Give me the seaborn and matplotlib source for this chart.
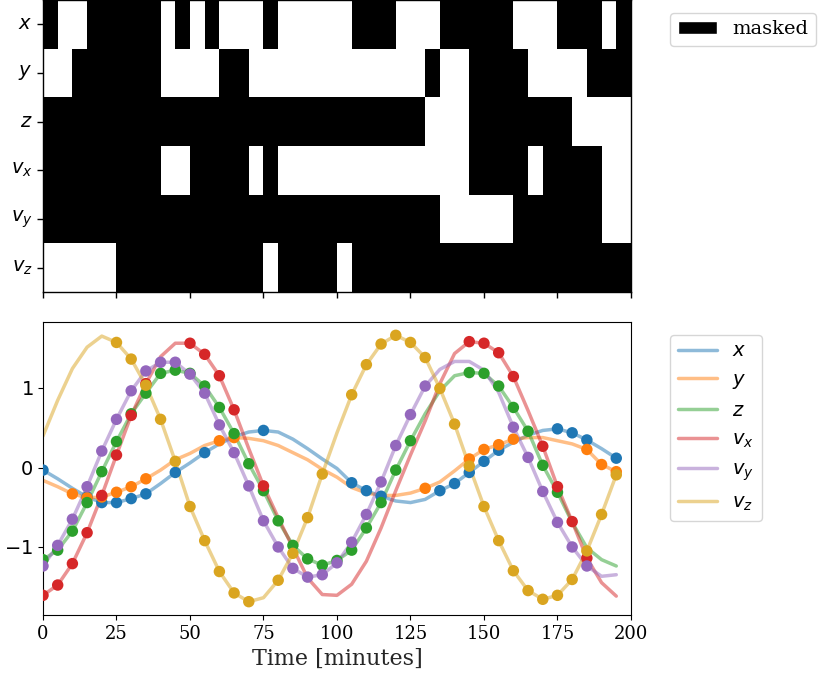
import numpy as np
import pandas as pd
import seaborn as sns
import matplotlib.pyplot as plt
from matplotlib.colors import ListedColormap
from matplotlib.patches import Patch
from matplotlib.lines import Line2D

sns.set_style("ticks", {"axes.edgecolor": "black", "xtick.color": "black",
                        "ytick.color": "black", "text.color": "black"})
plt.rcParams["font.family"] = ["DejaVu Serif"]
plt.rcParams["mathtext.fontset"] = "dejavusans"

# time grid (minutes)
time = list(range(0, 200, 5))

names = ["x", "y", "z", "vx", "vy", "vz"]
labels = ["$x$", "$y$", "$z$", "$v_x$", "$v_y$", "$v_z$"]
colors = ["#1f77b4", "#ff7f0e", "#2ca02c", "#d62728", "#9467bd", "goldenrod"]

# values
x_vals = [-0.03, -0.14, -0.26, -0.37, -0.44, -0.44, -0.39, -0.33, -0.20, -0.06,
          0.06, 0.19, 0.30, 0.39, 0.45, 0.47, 0.45, 0.36, 0.24, 0.11,
          -0.01, -0.19, -0.29, -0.36, -0.42, -0.44, -0.40, -0.29, -0.20, -0.06,
          0.08, 0.22, 0.32, 0.41, 0.47, 0.49, 0.44, 0.35, 0.24, 0.12]
y_vals = [-0.16, -0.24, -0.33, -0.38, -0.37, -0.31, -0.24, -0.14, -0.03, 0.10,
          0.18, 0.28, 0.34, 0.38, 0.37, 0.34, 0.28, 0.19, 0.10, -0.02,
          -0.12, -0.25, -0.32, -0.35, -0.35, -0.32, -0.26, -0.18, -0.04, 0.11,
          0.23, 0.29, 0.36, 0.38, 0.38, 0.34, 0.30, 0.23, 0.04, -0.05]
z_vals = [-1.16, -1.04, -0.80, -0.44, -0.05, 0.33, 0.68, 0.94, 1.19, 1.23,
          1.19, 1.03, 0.76, 0.43, 0.05, -0.29, -0.67, -0.98, -1.15, -1.23,
          -1.17, -1.04, -0.76, -0.44, -0.03, 0.34, 0.68, 0.97, 1.16, 1.20,
          1.19, 1.03, 0.76, 0.46, 0.03, -0.31, -0.69, -1.01, -1.16, -1.24]
vx_vals = [-1.61, -1.48, -1.21, -0.82, -0.35, 0.16, 0.66, 1.06, 1.40, 1.57,
           1.57, 1.43, 1.16, 0.73, 0.24, -0.23, -0.63, -1.01, -1.39, -1.60,
           -1.61, -1.47, -1.18, -0.76, -0.29, 0.16, 0.59, 1.06, 1.44, 1.59,
           1.57, 1.45, 1.15, 0.72, 0.27, -0.24, -0.68, -1.14, -1.45, -1.62]
vy_vals = [-1.24, -0.98, -0.65, -0.24, 0.21, 0.61, 0.97, 1.22, 1.33, 1.33,
           1.18, 0.94, 0.54, 0.19, -0.23, -0.67, -1.00, -1.27, -1.38, -1.35,
           -1.20, -0.94, -0.59, -0.18, 0.28, 0.67, 1.03, 1.24, 1.34, 1.34,
           1.23, 0.95, 0.51, 0.13, -0.30, -0.69, -1.00, -1.24, -1.37, -1.35]
vz_vals = [0.40, 0.85, 1.25, 1.52, 1.66, 1.58, 1.37, 1.04, 0.61, 0.08,
           -0.49, -0.92, -1.31, -1.58, -1.69, -1.64, -1.42, -1.08, -0.63, -0.08,
           0.44, 0.92, 1.30, 1.56, 1.67, 1.58, 1.39, 1.00, 0.55, 0.02,
           -0.49, -0.92, -1.30, -1.55, -1.66, -1.61, -1.41, -1.05, -0.59, -0.09]

# mask per 5-minute step (1 = masked)
mask_x = "1001111101" "0100010000" "0111000111" "1100011101"
mask_y = "0011111100" "0011000000" "0000001001" "1110000111"
mask_z = "1111111111" "1111111111" "1111110001" "1111110000"
mask_vx = "1111111100" "1111010000" "0000000001" "1110111100"
mask_vy = "1111111111" "1111111111" "1111111000" "0011111100"
mask_vz = "0000011111" "1111101111" "0111111111" "1111111111"

values = [x_vals, y_vals, z_vals, vx_vals, vy_vals, vz_vals]
masks = [mask_x, mask_y, mask_z, mask_vx, mask_vy, mask_vz]

mask_df = pd.DataFrame([[int(c) for c in m] for m in masks], index=labels, columns=time)

rows = []
for name, vals, m in zip(names, values, masks):
    for t, v, c in zip(time, vals, m):
        rows.append({"t": t, "value": v, "var": name, "masked": int(c)})
df = pd.DataFrame(rows)
palette = dict(zip(names, colors))

fig = plt.figure(figsize=(8.22, 6.8), dpi=100)
ax_m = fig.add_axes([0.0523, 0.5706, 0.7153, 0.4294])
ax = fig.add_axes([0.0523, 0.0956, 0.7153, 0.4309])

# top: mask
sns.heatmap(mask_df, cmap=ListedColormap(["white", "black"]), vmin=0, vmax=1,
            cbar=False, ax=ax_m)
ax_m.set_xticks(np.arange(0, 41, 5))
ax_m.set_xticklabels([])
ax_m.set_yticks(np.arange(6) + 0.5)
ax_m.set_yticklabels(labels, rotation=0, fontsize=14)
ax_m.set_xlabel("")
ax_m.set_ylabel("")
ax_m.tick_params(length=4, width=1, color="black")
for s in ax_m.spines.values():
    s.set_visible(True)
    s.set_linewidth(1)
    s.set_edgecolor("black")
ax_m.legend(handles=[Patch(facecolor="black", label="masked")],
            loc="upper left", bbox_to_anchor=(1.05, 0.99), fontsize=14)

# bottom: series
sns.lineplot(data=df, x="t", y="value", hue="var", palette=palette,
             lw=2.5, alpha=0.5, legend=False, ax=ax)
sns.scatterplot(data=df[df["masked"] == 1], x="t", y="value", hue="var",
                palette=palette, s=68, linewidth=0, legend=False, zorder=3, ax=ax)
ax.set_xlim(0, 200)
ax.set_xticks(range(0, 201, 25))
ax.set_yticks([-1, 0, 1])
ax.set_yticklabels(["$-1$", "$0$", "$1$"], fontsize=14)
ax.tick_params(axis="x", labelsize=13)
ax.set_xlabel("Time [minutes]", fontsize=16)
ax.set_ylabel("")

handles = [Line2D([], [], color=c, lw=2.5, alpha=0.5) for c in colors]
ax.legend(handles, labels, loc="upper left", bbox_to_anchor=(1.05, 0.99),
          fontsize=14, labelspacing=0.55)

fig.savefig("out.png", dpi=100)
